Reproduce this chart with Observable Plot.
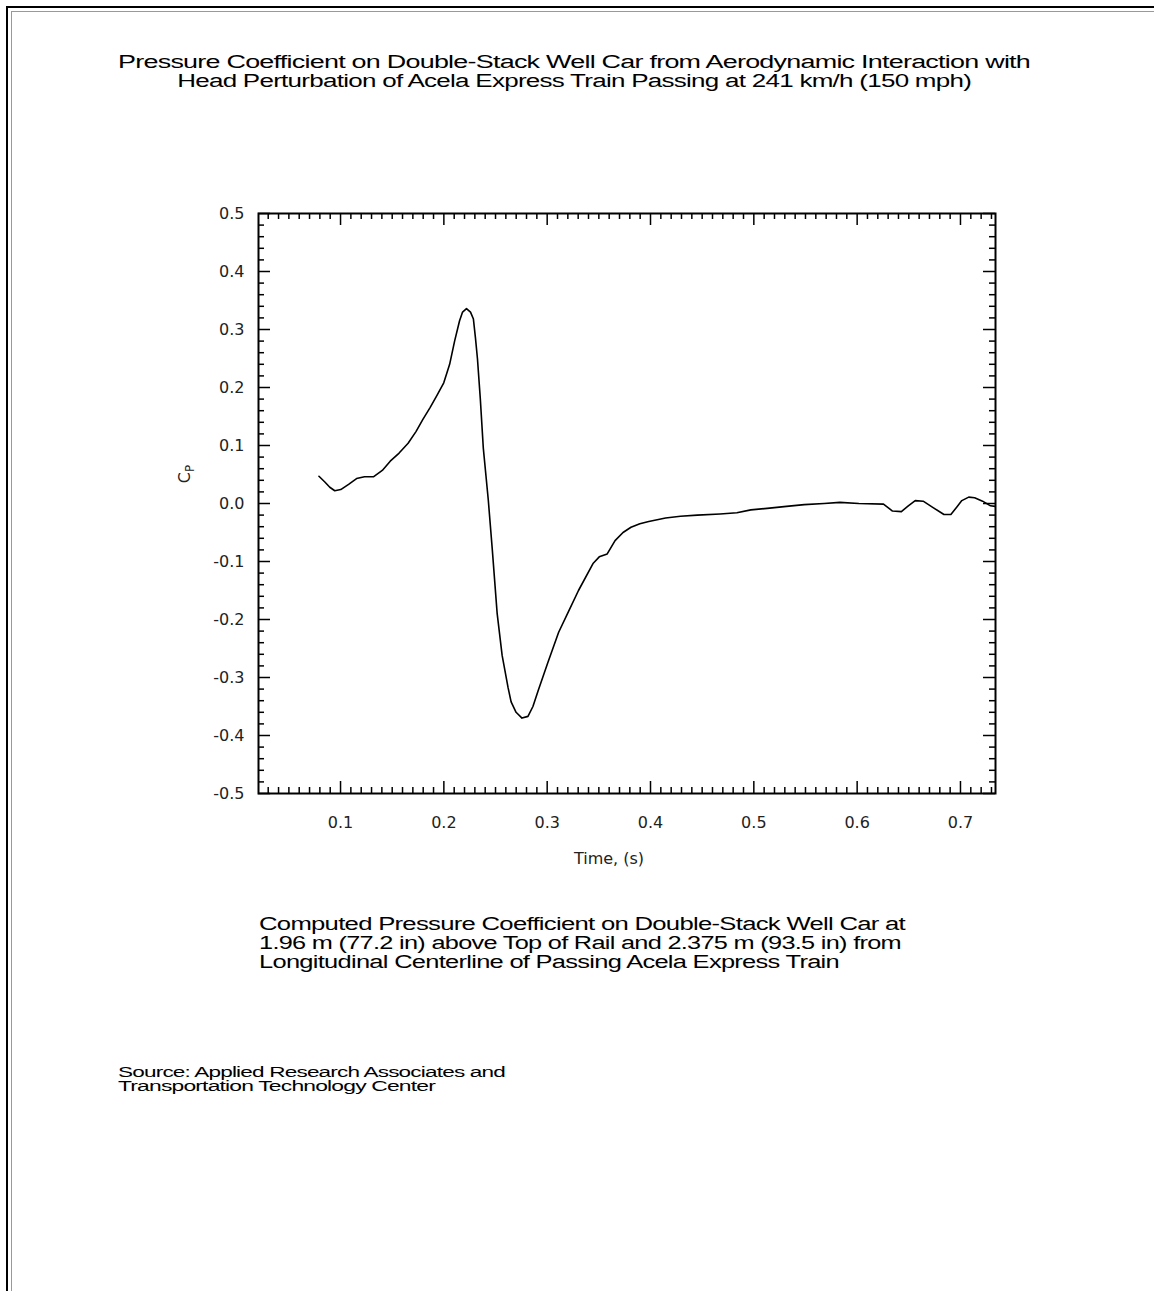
<!DOCTYPE html>
<html>
<head>
<meta charset="utf-8">
<script src="https://cdn.jsdelivr.net/npm/d3@7"></script>
<script src="https://cdn.jsdelivr.net/npm/@observablehq/plot@0.6"></script>
<style>
  html, body { margin: 0; padding: 0; background: #fff; }
  #page { position: relative; width: 1154px; height: 1291px; background: #fff; overflow: hidden; font-family: "Liberation Sans", Arial, sans-serif; color: #000; }
  #b1 { position: absolute; z-index: 5; left: 6px; top: 6px; right: -10px; bottom: -10px; border-left: 2px solid #000; border-top: 2px solid #000; pointer-events: none; }
  #b2 { position: absolute; z-index: 5; left: 11px; top: 11px; right: -10px; bottom: -10px; border-left: 1px solid #999; border-top: 1px solid #999; pointer-events: none; }
  .line { position: absolute; white-space: nowrap; line-height: 1; }
  .title, .caption { font-size: 18px; letter-spacing: -0.5px; }
  .source { font-size: 14px; letter-spacing: -0.5px; }
  #chart { position: absolute; left: 0; top: 150px; }
</style>
</head>
<body>
<div id="page">
  <div id="texts"></div>
  <div id="chart"></div>
  <div id="b1"></div>
  <div id="b2"></div>
</div>
<script>
// ---- text ----
const titleLines = [
  "Pressure Coefficient on Double-Stack Well Car from Aerodynamic Interaction with",
  "Head Perturbation of Acela Express Train Passing at 241 km/h (150 mph)"
];
const captionLines = [
  "Computed Pressure Coefficient on Double-Stack Well Car at",
  "1.96 m (77.2 in) above Top of Rail and 2.375 m (93.5 in) from",
  "Longitudinal Centerline of Passing Acela Express Train"
];
const sourceLines = [
  "Source: Applied Research Associates and",
  "Transportation Technology Center"
];
const xLabel = "Time, (s)";
const yLabelMain = "C";
const yLabelSub = "P";

// ---- axis ticks ----
const xTicks = [0.1, 0.2, 0.3, 0.4, 0.5, 0.6, 0.7];
const yTicks = [0.5, 0.4, 0.3, 0.2, 0.1, 0.0, -0.1, -0.2, -0.3, -0.4, -0.5];
const xMinor = d3.range(3, 74).map(i => i / 100).filter(v => Math.round(v * 100) % 10 !== 0);
const yMinor = d3.range(-25, 26).map(i => i / 50).filter(v => Math.round(v * 50) % 5 !== 0);

// ---- data ----
const time = [
  0.0791, 0.0848, 0.0896, 0.0944, 0.1002, 0.1078, 0.1155, 0.1232, 0.1318, 0.1404,
  0.1481, 0.1567, 0.1654, 0.1730, 0.1797, 0.1865, 0.1932, 0.1999, 0.2056, 0.2104,
  0.2152, 0.2181, 0.2219, 0.2258, 0.2286, 0.2306, 0.2325, 0.2353, 0.2382, 0.2430,
  0.2469, 0.2516, 0.2564, 0.2622, 0.2651, 0.2699, 0.2756, 0.2814, 0.2862, 0.2914,
  0.3005, 0.3111, 0.3207, 0.3303, 0.3446, 0.3504, 0.3581, 0.3657, 0.3734, 0.3811,
  0.3897, 0.3983, 0.4146, 0.4290, 0.4453, 0.4673, 0.4836, 0.4971, 0.5153, 0.5316,
  0.5488, 0.5680, 0.5833, 0.6016, 0.6255, 0.6342, 0.6428, 0.6495, 0.6562, 0.6639,
  0.6735, 0.6840, 0.6907, 0.6965, 0.7013, 0.7080, 0.7137, 0.7214, 0.7291, 0.7335
];
const cp = [
  0.047, 0.037, 0.028, 0.022, 0.024, 0.033, 0.043, 0.046, 0.046, 0.057,
  0.073, 0.087, 0.104, 0.124, 0.145, 0.165, 0.186, 0.208, 0.240, 0.280,
  0.315, 0.330, 0.336, 0.330, 0.318, 0.285, 0.250, 0.180, 0.095, 0.006,
  -0.080, -0.190, -0.262, -0.318, -0.342, -0.360, -0.370, -0.367, -0.350, -0.322,
  -0.275, -0.222, -0.186, -0.150, -0.103, -0.092, -0.087, -0.064, -0.050, -0.041,
  -0.035, -0.031, -0.025, -0.022, -0.020, -0.018, -0.016, -0.011, -0.008, -0.005,
  -0.002, 0.000, 0.002, 0.000, -0.001, -0.013, -0.014, -0.004, 0.005, 0.004,
  -0.007, -0.019, -0.019, -0.006, 0.005, 0.011, 0.010, 0.004, -0.004, -0.005
];
const data = time.map((t, i) => ({t, cp: cp[i]}));

// ---- layout ----
const W = 1154, H = 720;
const mL = 258, mR = 159, mT = 63, mB = 77;
const fw = W - mL - mR, fh = H - mT - mB;
const major = 12, minor = 6;
const fmt = d => d.toFixed(1);

// text lines: [text, class, anchor x, top y, target width, align]
const texts = document.getElementById("texts");
function addLine(text, cls, x, y, target, align) {
  const d = document.createElement("div");
  d.className = "line " + cls;
  d.textContent = text;
  texts.appendChild(d);
  const w = d.getBoundingClientRect().width;
  const s = target / w;
  d.style.top = y + "px";
  if (align === "center") {
    d.style.left = (x - w / 2) + "px";
    d.style.transformOrigin = "center";
  } else {
    d.style.left = x + "px";
    d.style.transformOrigin = "left";
  }
  d.style.transform = `scaleX(${s})`;
}
const titleWidths = [912, 794];
titleLines.forEach((s, i) => addLine(s, "title", 574, 53 + i * 19, titleWidths[i], "center"));
const captionWidths = [646, 642, 580];
captionLines.forEach((s, i) => addLine(s, "caption", 259, 915 + i * 19, captionWidths[i], "left"));
const sourceWidths = [387, 317];
sourceLines.forEach((s, i) => addLine(s, "source", 118, 1065 + i * 14, sourceWidths[i], "left"));

const plot = Plot.plot({
  width: W, height: H,
  marginLeft: mL, marginRight: mR, marginTop: mT, marginBottom: mB,
  x: {domain: [0.0206, 0.7339]},
  y: {domain: [-0.5, 0.5]},
  style: {fontFamily: "DejaVu Sans", fontSize: "16px", color: "#000", background: "transparent"},
  marks: [
    // inward ticks on all four sides
    Plot.tickX(xTicks, {x: d => d, insetTop: fh - major, stroke: "#000", strokeWidth: 1.5}),
    Plot.tickX(xTicks, {x: d => d, insetBottom: fh - major, stroke: "#000", strokeWidth: 1.5}),
    Plot.tickX(xMinor, {x: d => d, insetTop: fh - minor, stroke: "#000", strokeWidth: 1.5}),
    Plot.tickX(xMinor, {x: d => d, insetBottom: fh - minor, stroke: "#000", strokeWidth: 1.5}),
    Plot.tickY(yTicks, {y: d => d, insetRight: fw - major, stroke: "#000", strokeWidth: 1.5}),
    Plot.tickY(yTicks, {y: d => d, insetLeft: fw - major, stroke: "#000", strokeWidth: 1.5}),
    Plot.tickY(yMinor, {y: d => d, insetRight: fw - minor, stroke: "#000", strokeWidth: 1.5}),
    Plot.tickY(yMinor, {y: d => d, insetLeft: fw - minor, stroke: "#000", strokeWidth: 1.5}),
    Plot.frame({stroke: "#000", strokeWidth: 2}),
    Plot.axisX({ticks: xTicks, tickSize: 0, tickPadding: 23, tickFormat: fmt, label: null, fill: "#222"}),
    Plot.axisY({ticks: yTicks, tickSize: 0, tickPadding: 14, tickFormat: fmt, label: null, fill: "#222"}),
    Plot.line(data, {x: "t", y: "cp", stroke: "#000", strokeWidth: 1.6}),
    Plot.text([xLabel], {frameAnchor: "bottom", dy: 70, dx: -18, fontSize: 16, fill: "#222"})
  ]
});
document.getElementById("chart").appendChild(plot);

// y label "C" with subscript "P", rotated, positioned via the plot's y scale
const ys = plot.scale("y");
const yPos = ys.apply(0.05);
const lab = d3.select(plot).append("text")
  .attr("transform", `translate(${mL - 68},${yPos}) rotate(-90)`)
  .attr("text-anchor", "middle")
  .attr("font-family", "DejaVu Sans")
  .attr("font-size", 16)
  .attr("fill", "#222");
lab.append("tspan").text(yLabelMain);
lab.append("tspan").attr("font-size", 12).attr("dy", 4).text(yLabelSub);
</script>
</body>
</html>
